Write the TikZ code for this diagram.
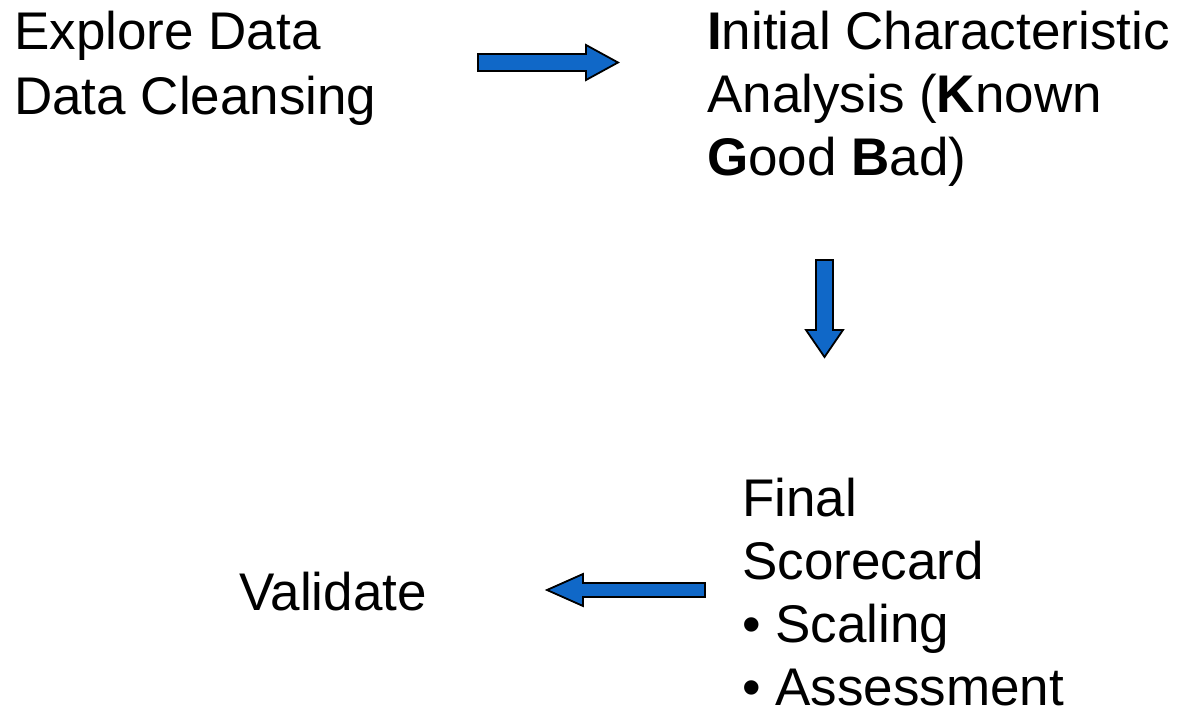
\documentclass[tikz,border=0pt]{standalone}
\usepackage{fontspec}
\setmainfont{Liberation Sans}
\usepackage{tikz}
\definecolor{arrowblue}{RGB}{16,104,200}

\begin{document}
\begin{tikzpicture}[x=1pt,y=-1pt,
  blockarrow/.style={fill=arrowblue,draw=black,line width=1.8pt,line join=miter},
  label/.style={anchor=base west,inner sep=0pt,align=left,
    font=\fontsize{53}{63}\selectfont}]
\useasboundingbox (0,0) rectangle (1178,708);
%% arrows
\draw[blockarrow] (478,54) -- (586,54) -- (586,45) -- (618,62.5) -- (586,80) -- (586,71) -- (478,71) -- cycle;
\draw[blockarrow] (816,260) -- (833,260) -- (833,330) -- (843,330) -- (824.5,357) -- (806,330) -- (816,330) -- cycle;
\draw[blockarrow] (705,583) -- (583,583) -- (583,574) -- (547,590) -- (583,606) -- (583,597) -- (705,597) -- cycle;
%% labels (anchored at the last line)
\node[label,font=\fontsize{53}{65}\selectfont] (explore) at (14,115) {Explore Data\\Data Cleansing};
\node[label] (initial) at (707,176) {\textbf{I}nitial Characteristic\\Analysis (\textbf{K}nown\\\textbf{G}ood \textbf{B}ad)};
\node[label] (final) at (742,705) {Final\\Scorecard\\• Scaling\\• Assessment};
\node[label] (validate) at (239,610) {Validate};
\end{tikzpicture}
\end{document}
